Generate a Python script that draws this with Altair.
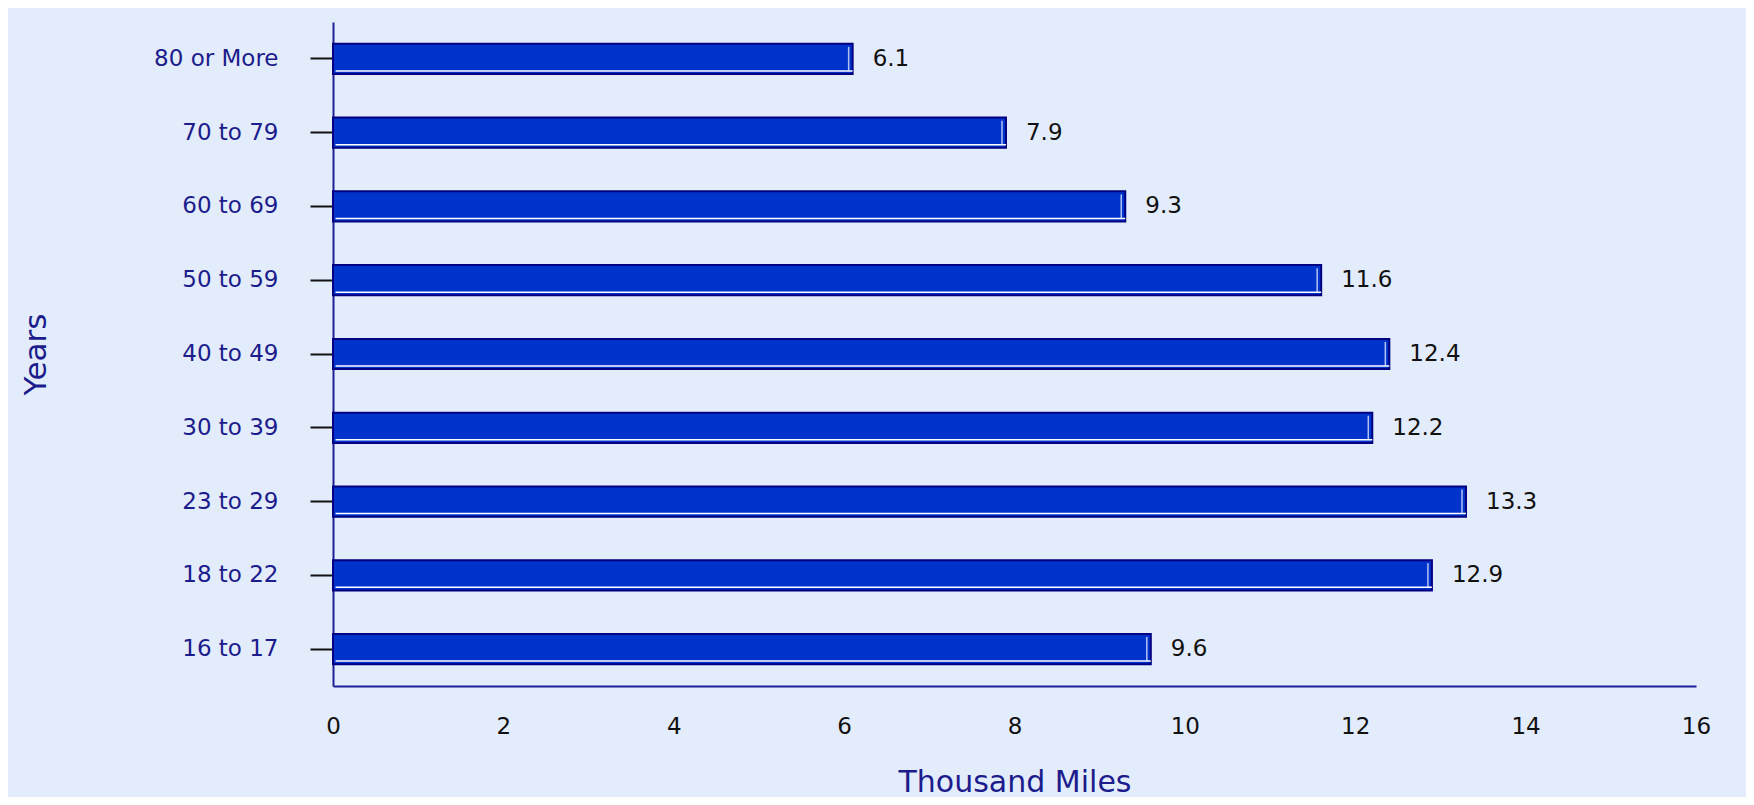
import altair as alt
import pandas as pd

categories = ["80 or More", "70 to 79", "60 to 69", "50 to 59", "40 to 49",
              "30 to 39", "23 to 29", "18 to 22", "16 to 17"]
values = [6.1, 7.9, 9.3, 11.6, 12.4, 12.2, 13.3, 12.9, 9.6]
x_ticks = [0, 2, 4, 6, 8, 10, 12, 14, 16]

df = pd.DataFrame({"age": categories, "miles": values})
df["label"] = df["miles"].map(lambda v: f"{v:.1f}")

FONT = "DejaVu Sans"
NAVY = "#1c1c8c"

y_enc = alt.Y("age:N", sort=categories,
              scale=alt.Scale(paddingInner=0.59, paddingOuter=0.295),
              axis=alt.Axis(title="Years", titleFont=FONT, titleFontSize=31,
                            titleFontWeight="normal", titleColor=NAVY,
                            titleAngle=270, titleX=-297, titleY=332,
                            titleAlign="center", titleBaseline="middle",
                            labelFont=FONT, labelFontSize=23, labelColor=NAVY,
                            labelPadding=32, tickSize=23, tickColor="#111111",
                            tickWidth=2, domainColor="#1e1e96", domainWidth=2))

x_scale = alt.Scale(domain=[0, 16], nice=False)
x_enc = alt.X("miles:Q", scale=x_scale,
              axis=alt.Axis(title="Thousand Miles", values=x_ticks, format="d",
                            titleFont=FONT, titleFontSize=30,
                            titleFontWeight="normal", titleColor=NAVY,
                            titleY=96, titleBaseline="middle",
                            labelFont=FONT, labelFontSize=23, labelColor="#111111",
                            labelBaseline="middle", labelPadding=40,
                            labelFlush=False, labelOverlap=False,
                            ticks=False, tickSize=0, grid=False,
                            domainColor="#1e1e96", domainWidth=2))

base = alt.Chart(df)

bars = base.mark_bar(color="#0033cc", stroke="#000080", strokeWidth=2).encode(
    x=x_enc, y=y_enc)

bottom_line = base.mark_rule(color="white", strokeWidth=1.5, yOffset=12).encode(
    x=alt.X("zero:Q", scale=x_scale), x2="miles:Q", y=alt.Y("age:N", sort=categories)
).transform_calculate(zero="0.03")

right_line = base.mark_tick(color="white", thickness=1.5, size=24, xOffset=-4).encode(
    x=alt.X("miles:Q", scale=x_scale), y=alt.Y("age:N", sort=categories))

text = base.mark_text(align="left", baseline="middle", dx=20, font=FONT,
                      fontSize=23, color="#111111").encode(
    x=alt.X("miles:Q", scale=x_scale), y=alt.Y("age:N", sort=categories),
    text="label:N")

chart = alt.layer(bars, bottom_line, right_line, text).properties(
    width=1363, height=664,
    background="#e3ecfb",
    padding={"left": 325, "top": 14, "right": 50, "bottom": 111},
    autosize=alt.AutoSizeParams(type="none"),
).configure_view(strokeWidth=0)

chart.save("out.html", embed_options={"renderer": "svg", "actions": False})
